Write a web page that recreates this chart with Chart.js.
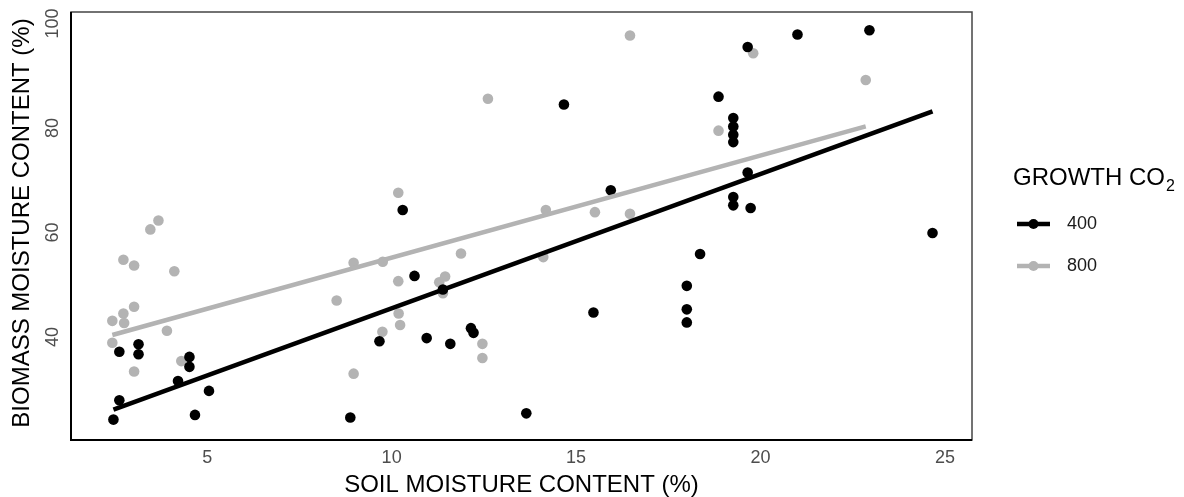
<!DOCTYPE html>
<html>
<head>
<meta charset="utf-8">
<script src="https://cdn.jsdelivr.net/npm/chart.js@4"></script>
<style>
  html, body { margin: 0; padding: 0; background: #fff; }
  #wrap { width: 1184px; height: 497px; position: relative; }
</style>
</head>
<body>
<div id="wrap"><canvas id="chart"></canvas></div>
<script>
// soil moisture (x) vs biomass moisture (y), growth CO2 = 400
const soil400 = [2.46, 2.62, 2.62, 3.14, 3.14, 4.21, 4.52, 4.52, 4.67, 5.05,
  8.88, 9.67, 10.30, 10.62, 10.95, 11.39, 11.59, 12.15, 12.22, 13.65,
  14.67, 15.47, 15.94, 18.0, 18.0, 18.0, 18.36, 18.86, 19.26, 19.26,
  19.26, 19.26, 19.26, 19.26, 19.65, 19.65, 19.73, 21.0, 22.95, 24.66];
const biomass400 = [24.2, 27.9, 37.2, 38.6, 36.7, 31.6, 36.2, 34.3, 25.1, 29.7,
  24.6, 39.2, 64.3, 51.7, 39.8, 49.1, 38.7, 41.7, 40.8, 25.4,
  84.5, 44.7, 68.1, 49.8, 45.3, 42.8, 55.9, 86.0, 81.9, 80.3,
  78.7, 77.3, 66.8, 65.2, 95.5, 71.5, 64.7, 97.9, 98.7, 59.9];

// growth CO2 = 800
const soil800 = [2.43, 2.43, 2.73, 2.73, 2.75, 3.02, 3.02, 3.02, 3.46, 3.68,
  3.91, 4.11, 4.30, 8.51, 8.97, 8.97, 9.75, 9.76, 10.18, 10.18,
  10.19, 10.23, 11.29, 11.39, 11.45, 11.88, 12.46, 12.46, 12.61, 14.18,
  14.11, 15.51, 16.46, 16.46, 18.86, 19.80, 22.85];
const biomass800 = [43.1, 38.9, 54.8, 44.5, 42.7, 53.7, 45.8, 33.4, 60.6, 62.3,
  41.2, 52.6, 35.4, 47.0, 54.2, 33.0, 41.0, 54.4, 67.6, 50.7,
  44.5, 42.3, 50.5, 48.4, 51.6, 56.0, 38.7, 36.0, 85.6, 64.3,
  55.3, 63.9, 63.6, 97.7, 79.5, 94.3, 89.2];

// fitted lines (end points)
const fitX400 = [2.46, 24.66];
const fitY400 = [26.1, 83.2];
const fitX800 = [2.43, 22.85];
const fitY800 = [40.4, 80.3];

const groupLabels = ['400', '800'];
const xTicks = [5, 10, 15, 20, 25];
const yTicks = [40, 60, 80, 100];

const BLACK = '#000000';
const GREY = '#b3b3b3';

function pts(xs, ys) { return xs.map((x, i) => ({ x: x, y: ys[i] })); }

const drawExtras = {
    id: 'drawExtras',
    afterDraw: function(chart) {
        const ctx = chart.ctx;
        const a = chart.chartArea;
        const xs = chart.scales.x;
        const ys = chart.scales.y;
        ctx.save();

        // panel border + axis lines
        ctx.strokeStyle = '#444';
        ctx.lineWidth = 1.5;
        ctx.strokeRect(a.left, a.top, a.right - a.left, a.bottom - a.top);
        ctx.strokeStyle = '#000';
        ctx.lineWidth = 2;
        ctx.beginPath();
        ctx.moveTo(a.left, a.top);
        ctx.lineTo(a.left, a.bottom);
        ctx.lineTo(a.right, a.bottom);
        ctx.stroke();

        // tick labels
        ctx.fillStyle = '#4d4d4d';
        ctx.font = '18px "Liberation Sans", Arial, sans-serif';
        ctx.textAlign = 'center';
        ctx.textBaseline = 'middle';
        xs.ticks.forEach(t => {
            ctx.fillText(String(t.value), xs.getPixelForValue(t.value), 458);
        });
        ys.ticks.forEach(t => {
            ctx.save();
            ctx.translate(53, ys.getPixelForValue(t.value));
            ctx.rotate(-Math.PI / 2);
            ctx.fillText(String(t.value), 0, 0);
            ctx.restore();
        });

        // axis titles
        ctx.fillStyle = '#000';
        ctx.font = '24px "Liberation Sans", Arial, sans-serif';
        ctx.fillText('SOIL MOISTURE CONTENT (%)', (a.left + a.right) / 2, 485);
        ctx.save();
        ctx.translate(22, 223);
        ctx.rotate(-Math.PI / 2);
        ctx.fillText('BIOMASS MOISTURE CONTENT (%)', 0, 0);
        ctx.restore();

        // legend
        ctx.textAlign = 'left';
        ctx.textBaseline = 'alphabetic';
        ctx.font = '24px "Liberation Sans", Arial, sans-serif';
        ctx.fillText('GROWTH CO', 1013, 185);
        const w = ctx.measureText('GROWTH CO').width;
        ctx.font = '16px "Liberation Sans", Arial, sans-serif';
        ctx.fillText('2', 1013 + w + 1, 191);

        const keyCols = [BLACK, GREY];
        const keyY = [224, 266];
        groupLabels.forEach((lab, i) => {
            ctx.strokeStyle = keyCols[i];
            ctx.lineWidth = 4.5;
            ctx.beginPath();
            ctx.moveTo(1017, keyY[i]);
            ctx.lineTo(1050, keyY[i]);
            ctx.stroke();
            ctx.fillStyle = keyCols[i];
            ctx.beginPath();
            ctx.arc(1033.5, keyY[i], 5, 0, Math.PI * 2);
            ctx.fill();
            ctx.fillStyle = '#1a1a1a';
            ctx.font = '18px "Liberation Sans", Arial, sans-serif';
            ctx.textBaseline = 'middle';
            ctx.fillText(lab, 1067, keyY[i]);
        });
        ctx.restore();
    }
};

const ctx = document.getElementById('chart').getContext('2d');
new Chart(ctx, {
    type: 'scatter',
    data: {
        datasets: [
            { label: 'fit 400', data: pts(fitX400, fitY400), showLine: true, borderColor: BLACK, borderWidth: 4.5, pointRadius: 0, fill: false },
            { label: 'fit 800', data: pts(fitX800, fitY800), showLine: true, borderColor: GREY, borderWidth: 4.5, pointRadius: 0, fill: false },
            { label: groupLabels[0], data: pts(soil400, biomass400), backgroundColor: BLACK, borderWidth: 0, pointRadius: 5.3 },
            { label: groupLabels[1], data: pts(soil800, biomass800), backgroundColor: GREY, borderWidth: 0, pointRadius: 5.3 }
        ]
    },
    options: {
        responsive: true,
        maintainAspectRatio: false,
        animation: false,
        layout: { padding: { left: 71, right: 212, top: 12, bottom: 57 } },
        plugins: { legend: { display: false }, tooltip: { enabled: false } },
        scales: {
            x: {
                type: 'linear', display: false, min: 1.31, max: 25.73,
                afterBuildTicks: s => { s.ticks = xTicks.map(v => ({ value: v })); }
            },
            y: {
                type: 'linear', display: false, min: 20.3, max: 102.2,
                afterBuildTicks: s => { s.ticks = yTicks.map(v => ({ value: v })); }
            }
        }
    },
    plugins: [drawExtras]
});
</script>
</body>
</html>
